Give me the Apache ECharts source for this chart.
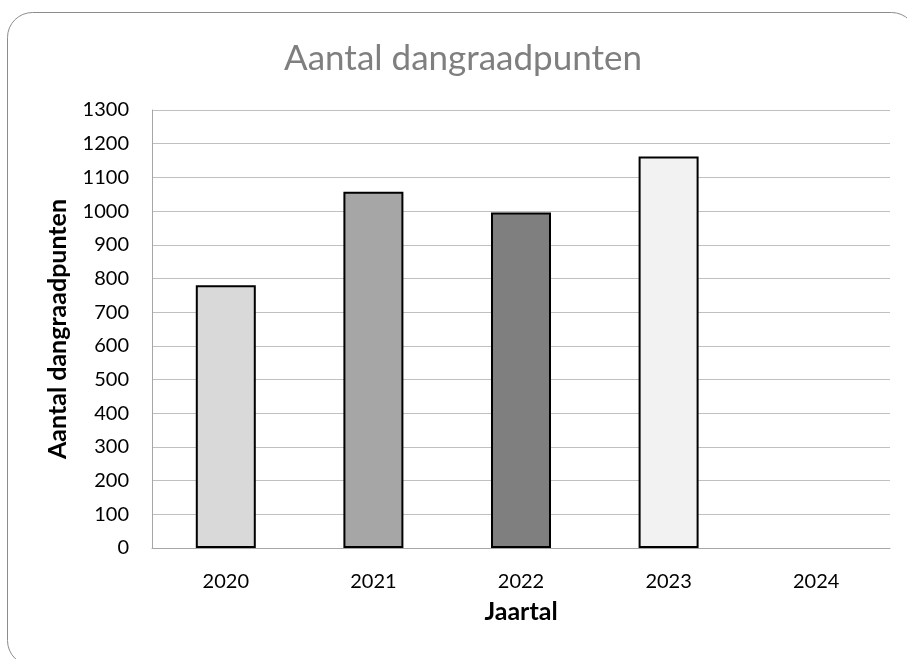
<!DOCTYPE html>
<html>
<head>
<meta charset="utf-8">
<script src="https://cdn.jsdelivr.net/npm/echarts@6/dist/echarts.min.js"></script>
<style>
  html, body { margin: 0; padding: 0; background: #fff; }
  #chart { width: 907px; height: 659px; }
</style>
</head>
<body>
<div id="chart"></div>
<script>
const years = ["2020", "2021", "2022", "2023", "2024"];
const punten = [780, 1057, 996, 1162, null];
const barColors = ["#d9d9d9", "#a6a6a6", "#7f7f7f", "#f2f2f2", "#ffffff"];

const font = "Lato, 'Open Sans', sans-serif";

let mychart = echarts.init(document.getElementById("chart"));
const option = {
  animation: false,
  textStyle: { fontFamily: font },
  graphic: [
    {
      type: "rect",
      shape: { x: 7.5, y: 12.5, width: 909, height: 653, r: 25 },
      style: { fill: "none", stroke: "#8c8c8c", lineWidth: 1 },
      silent: true,
    },
  ],
  title: {
    text: "Aantal dangraadpunten",
    left: 284,
    top: 41,
    padding: 0,
    textStyle: { fontFamily: font, fontSize: 35, fontWeight: "normal", color: "#7f7f7f" },
  },
  grid: { left: 152, right: 17, top: 110, bottom: 111, containLabel: false },
  xAxis: {
    type: "category",
    data: years,
    name: "Jaartal",
    nameLocation: "middle",
    nameGap: 51,
    nameTextStyle: { fontFamily: font, fontSize: 25, fontWeight: "bold", color: "#000" },
    axisLine: { lineStyle: { color: "#a6a6a6", width: 1 } },
    axisTick: { show: false },
    axisLabel: { color: "#000", fontSize: 20, margin: 24 },
  },
  yAxis: {
    type: "value",
    min: 0,
    max: 1300,
    interval: 100,
    name: "Aantal dangraadpunten",
    nameLocation: "middle",
    nameGap: 82,
    nameTextStyle: { fontFamily: font, fontSize: 25, fontWeight: "bold", color: "#000" },
    axisLine: { show: true, lineStyle: { color: "#a6a6a6", width: 1 } },
    axisTick: { show: false },
    axisLabel: { color: "#000", fontSize: 20, margin: 23, formatter: (v) => String(v) },
    splitLine: { lineStyle: { color: "#c0c0c0", width: 1 } },
  },
  series: [
    {
      name: "Aantal dangraadpunten",
      type: "bar",
      barWidth: 60,
      data: punten.map((v, i) => ({
        value: v,
        itemStyle: { color: barColors[i], borderColor: "#000", borderWidth: 2 },
      })),
    },
  ],
};
mychart.setOption(option);
</script>
</body>
</html>
